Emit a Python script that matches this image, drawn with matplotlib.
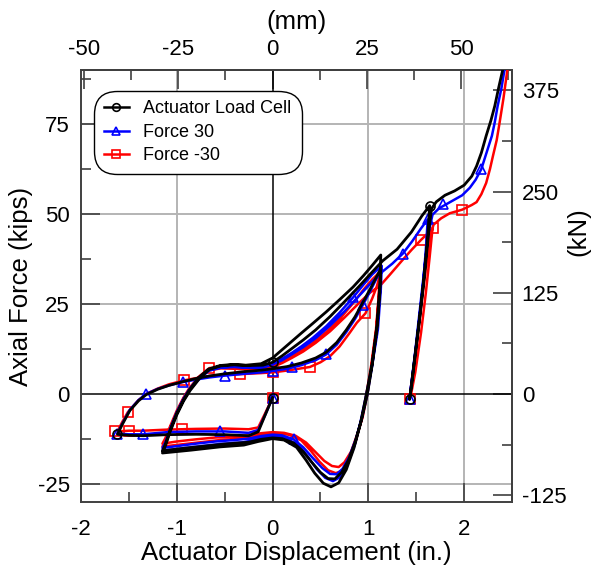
import matplotlib
matplotlib.use("Agg")
import matplotlib.pyplot as plt
import numpy as np

plt.rcParams['font.family'] = ['Liberation Sans', 'DejaVu Sans']
plt.rcParams['axes.unicode_minus'] = False

# ---------------- data (in., kips) ----------------
black_x = [0, -0.08, -0.15, -0.25, -0.5, -0.8, -1.1, -1.35, -1.5, -1.62,
           -1.57, -1.49, -1.40, -1.32, -1.2, -1.08, -0.94, -0.8, -0.66, -0.5, -0.3, -0.12, 0, 0.15, 0.3, 0.45, 0.56, 0.67, 0.77, 0.86, 0.94, 1.02, 1.08, 1.13,
           1.12, 1.09, 1.04, 0.99, 0.93, 0.86, 0.79, 0.72, 0.65, 0.58, 0.5, 0.41, 0.32, 0.22, 0.1, 0, -0.12, -0.25, -0.35, -0.5, -0.75, -1.0, -1.15,
           -1.12, -1.07, -1.0, -0.93, -0.87, -0.77, -0.67, -0.55, -0.42, -0.28, -0.12, 0, 0.1, 0.2, 0.3, 0.42, 0.56, 0.7, 0.84, 0.95, 1.04, 1.13,
           1.12, 1.09, 1.04, 0.98, 0.92, 0.85, 0.77, 0.69, 0.61, 0.53, 0.44, 0.35, 0.25, 0.12, 0, -0.15, -0.3, -0.55, -0.85, -1.15,
           -1.12, -1.07, -1.0, -0.93, -0.86, -0.76, -0.66, -0.54, -0.4, -0.25, -0.1, 0, 0.1, 0.2, 0.32, 0.45, 0.6, 0.75, 0.9, 1.02, 1.15, 1.3, 1.45, 1.56, 1.64,
           1.62, 1.58, 1.53, 1.48, 1.45, 1.43,
           1.45, 1.49, 1.54, 1.59, 1.63, 1.66, 1.71, 1.8, 1.9, 2.0, 2.08, 2.13, 2.18, 2.23, 2.28, 2.32, 2.36, 2.4, 2.42]
black_y = [-1, -6, -10.5, -11.6, -11.3, -11.2, -11.3, -11.6, -11.5, -11.2,
           -8.5, -4.6, -1.9, -0.2, 1.3, 2.4, 3.4, 4.3, 5.0, 5.6, 6.2, 6.6, 7.0, 7.6, 8.6, 10.0, 11.6, 14.3, 17.8, 21.4, 25.3, 29.2, 32.3, 34.8,
           28, 18, 8, 0, -7, -13.5, -18.5, -21.8, -23.6, -23.5, -21.8, -19, -16, -13.6, -12.4, -12.2, -12.6, -13.4, -13.6, -13.9, -14.6, -15.3, -15.8,
           -14, -10, -5.3, -1.6, 1.1, 4.6, 6.9, 7.9, 8.2, 8.0, 8.4, 10.0, 12.3, 14.6, 16.9, 19.6, 22.8, 26.2, 29.7, 32.9, 35.7, 38.6,
           30, 19, 8.5, 0, -8, -15, -21, -24.7, -25.8, -24.8, -22, -18.4, -14.8, -12.8, -12.4, -13.2, -14.2, -14.7, -15.6, -16.4,
           -14.5, -10.5, -5.8, -2, 1, 4.4, 6.8, 7.8, 8.1, 7.9, 8.0, 8.8, 10.6, 12.6, 15.0, 17.8, 21.5, 25.6, 29.8, 33.3, 37.0, 40.2, 45.0, 49.5, 52.3,
           44, 32, 20, 9, 2, -1.5,
           2.5, 11, 22, 34, 45, 51.5, 53.4, 55.2, 56.4, 58.0, 60.5, 63.3, 67.0, 71.7, 76.0, 80.0, 85.0, 89.7, 93.0]

blue_x = [0, -0.08, -0.15, -0.25, -0.5, -0.8, -1.1, -1.35, -1.5, -1.62,
          -1.57, -1.49, -1.40, -1.32, -1.2, -1.08, -0.94, -0.8, -0.66, -0.5, -0.3, -0.12, 0, 0.15, 0.3, 0.45, 0.56, 0.67, 0.77, 0.86, 0.94, 1.02, 1.08, 1.13,
          1.12, 1.09, 1.04, 0.99, 0.93, 0.87, 0.80, 0.73, 0.67, 0.6, 0.52, 0.42, 0.32, 0.22, 0.1, 0, -0.12, -0.25, -0.4, -0.6, -0.8, -1.0, -1.15,
          -1.12, -1.07, -1.0, -0.93, -0.87, -0.77, -0.67, -0.55, -0.42, -0.28, -0.12, 0, 0.1, 0.2, 0.3, 0.42, 0.56, 0.7, 0.84, 0.95, 1.04, 1.14,
          1.13, 1.1, 1.04, 0.98, 0.92, 0.86, 0.78, 0.7, 0.63, 0.55, 0.46, 0.37, 0.27, 0.14, 0, -0.15, -0.3, -0.55, -0.85, -1.15,
          -1.12, -1.07, -1.0, -0.93, -0.86, -0.76, -0.66, -0.54, -0.4, -0.25, -0.1, 0, 0.1, 0.2, 0.32, 0.45, 0.6, 0.75, 0.9, 1.02, 1.12, 1.25, 1.36, 1.46, 1.55, 1.62,
          1.6, 1.57, 1.52, 1.47, 1.44, 1.43,
          1.45, 1.49, 1.54, 1.59, 1.63, 1.67, 1.74, 1.82, 1.9, 1.98, 2.06, 2.12, 2.18, 2.24, 2.29, 2.32, 2.35, 2.39, 2.42, 2.44]
blue_y = [-1, -6, -10, -10.8, -10.4, -10.4, -10.6, -11.2, -11.2, -11.0,
          -8.3, -4.4, -1.7, 0, 1.4, 2.4, 3.3, 4.0, 4.6, 5.1, 5.6, 6.0, 6.4, 7.0, 8.0, 9.4, 11.0, 13.7, 17.2, 20.8, 24.6, 28.6, 31.8, 34.3,
          28, 18, 8, 0, -7, -12.5, -17.5, -20.8, -22.3, -22.2, -20.6, -17.8, -14.8, -12.6, -11.5, -11.3, -11.7, -12.4, -12.8, -13.2, -13.8, -14.5, -15.0,
          -13.5, -9.7, -5, -1.3, 1.3, 4.6, 6.6, 7.4, 7.6, 7.4, 7.5, 8.5, 9.8, 11.4, 13.2, 15.6, 18.8, 22.6, 26.8, 30.4, 33.2, 35.6,
          29, 18, 8, 0, -7.5, -14, -19.8, -23.2, -24.2, -23.3, -20.8, -17.5, -14.3, -12.3, -11.8, -12.5, -13.4, -13.9, -14.8, -15.8,
          -14, -10.2, -5.6, -1.8, 1.2, 4.4, 6.5, 7.3, 7.5, 7.3, 7.3, 8.2, 9.4, 11.0, 13.0, 15.5, 19.0, 22.9, 27.2, 30.6, 33.4, 36.2, 39.0, 42.5, 46.0, 48.5,
          40, 30, 18, 7, 1, -1.5,
          3, 12, 24, 36, 45, 49.8, 51.6, 52.8, 54.0, 55.2, 57.3, 59.5, 62.5, 67.5, 71.7, 75.5, 80.0, 85.0, 89.7, 93.0]

red_x = [0, -0.08, -0.15, -0.25, -0.5, -0.8, -1.1, -1.35, -1.5, -1.62,
         -1.57, -1.51, -1.40, -1.32, -1.2, -1.08, -0.92, -0.8, -0.66, -0.5, -0.34, -0.12, 0, 0.15, 0.39, 0.5, 0.6, 0.7, 0.8, 0.88, 0.97, 1.04, 1.09, 1.12,
         1.11, 1.08, 1.03, 0.99, 0.94, 0.88, 0.82, 0.75, 0.69, 0.62, 0.54, 0.45, 0.35, 0.24, 0.12, 0, -0.12, -0.25, -0.4, -0.6, -0.8, -1.0, -1.15,
         -1.12, -1.07, -1.0, -0.93, -0.87, -0.77, -0.66, -0.55, -0.42, -0.28, -0.12, 0, 0.1, 0.2, 0.3, 0.42, 0.56, 0.7, 0.84, 0.95, 1.04, 1.12,
         1.11, 1.08, 1.03, 0.98, 0.93, 0.87, 0.8, 0.73, 0.66, 0.58, 0.49, 0.4, 0.3, 0.17, 0, -0.15, -0.3, -0.55, -0.85, -1.15,
         -1.12, -1.07, -1.0, -0.93, -0.86, -0.76, -0.66, -0.54, -0.4, -0.25, -0.1, 0, 0.1, 0.2, 0.32, 0.45, 0.6, 0.75, 0.9, 1.02, 1.12, 1.22, 1.35, 1.45, 1.55, 1.62, 1.67,
         1.64, 1.6, 1.55, 1.49, 1.45, 1.43,
         1.45, 1.5, 1.55, 1.6, 1.64, 1.68, 1.76, 1.85, 1.98, 2.08, 2.13, 2.18, 2.23, 2.27, 2.3, 2.34, 2.37, 2.41, 2.45, 2.47]
red_y = [-1, -5.5, -9.3, -9.8, -9.6, -9.7, -9.9, -10.2, -10.2, -10.4,
         -7.8, -5.0, -1.7, 0, 1.5, 2.7, 3.8, 4.4, 5.0, 5.3, 5.5, 5.8, 6.0, 6.5, 7.5, 8.8, 10.5, 13.2, 16.8, 19.8, 22.4, 26.5, 30, 33,
         27, 17, 7, 0, -6.5, -11.5, -16, -19, -20.3, -20, -18.6, -16.2, -13.5, -11.6, -10.8, -10.6, -10.9, -11.5, -11.8, -12.1, -12.6, -13.2, -13.8,
         -12.3, -9, -4.6, -1, 1.6, 4.8, 7.2, 7.4, 7.3, 7.0, 7.0, 7.8, 9.0, 10.4, 12.0, 14.2, 17.2, 20.8, 25.2, 29.0, 31.8, 33.9,
         28, 18, 8, 0, -7, -13, -18, -21.3, -22, -21.2, -18.8, -15.8, -12.9, -11.3, -10.9, -11.5, -12.3, -12.8, -13.7, -14.6,
         -13, -9.5, -5.2, -1.4, 1.5, 4.6, 6.6, 7.1, 7.0, 6.8, 6.8, 7.5, 8.6, 10.0, 11.8, 14.2, 17.4, 21.2, 25.2, 28.2, 30.0, 33.0, 37.0, 40.0, 42.8, 44.6, 46.0,
         38, 28, 17, 6, 0.5, -1.5,
         3, 13, 24, 35, 43, 47, 48.8, 50.2, 51.2, 52.5, 53.3, 55.5, 58.6, 62.5, 66.0, 70.5, 75.3, 82.0, 89.7, 93.0]

# marker positions (on the curves)
black_mx = [0, -1.62, 0, 1.64, 1.43]
black_my = [-1, -11.2, 8.8, 52.3, -1.5]
blue_mx = [0, -1.62, -1.32, -0.94, -0.5, -1.35, -0.55, 0, 0.2, 0.56, 0.94, 0.84, 1.36, 1.62, 1.78, 2.18, 1.43, 0.22]
blue_my = [-1, -11.0, 0, 3.3, 5.1, -11.2, -10.4, 6.4, 7.5, 11.0, 24.6, 26.8, 39.0, 48.5, 52.8, 62.5, -1.5, -12.6]
red_mx = [0, -1.65, -1.5, -1.51, -0.95, -0.92, -0.66, -0.34, 0, 0.39, 0.97, 1.55, 1.67, 1.98, 1.43]
red_my = [-1, -10.2, -10.2, -5.0, -9.8, 3.8, 7.2, 5.5, 6.0, 7.5, 22.4, 42.8, 46.0, 51.2, -1.5]

x_major = [-2, -1, 0, 1, 2]
x_minor = [-1.5, -0.5, 0.5, 1.5, 2.5]
y_major = [-25, 0, 25, 50, 75]
y_minor = [-12.5, 12.5, 37.5, 62.5, 87.5]
mm_major = [-50, -25, 0, 25, 50]
mm_minor = [-37.5, -12.5, 12.5, 37.5, 62.5]
kn_major = [-125, 0, 125, 250, 375]
kn_minor = [-62.5, 62.5, 187.5, 312.5]

IN_TO_MM = 25.4
KIP_TO_KN = 4.448

# ---------------- figure ----------------
fig = plt.figure(figsize=(5.98, 5.69), dpi=100)
ax = fig.add_axes([0.1355, 0.1178, 0.7207, 0.7592])
ax.set_xlim(-2, 2.5)
ax.set_ylim(-30, 90)

grid_c = '#b4b4b4'
for v in [-1, 1, 2]:
    ax.axvline(v, color=grid_c, lw=1.4, zorder=0)
for v in [-25, 25, 50, 75]:
    ax.axhline(v, color=grid_c, lw=1.4, zorder=0)
ax.axvline(0, color='black', lw=1.1, zorder=1)
ax.axhline(0, color='black', lw=1.1, zorder=1)

ms = 6.5
ax.plot(red_x, red_y, color='#ff0000', lw=1.8, zorder=3, solid_joinstyle='round')
ax.plot(red_mx, red_my, ls='none', marker='s', ms=ms, mfc='none', mec='#ff0000', mew=1.2, zorder=3)
ax.plot(blue_x, blue_y, color='#0000ff', lw=1.8, zorder=4, solid_joinstyle='round')
ax.plot(blue_mx, blue_my, ls='none', marker='^', ms=ms, mfc='none', mec='#0000ff', mew=1.2, zorder=4)
ax.plot(black_x, black_y, color='black', lw=2.0, zorder=5, solid_joinstyle='round')
ax.plot(black_mx, black_my, ls='none', marker='o', ms=ms, mfc='none', mec='black', mew=1.2, zorder=5)

# legend proxies
h1, = ax.plot([], [], color='black', lw=1.8, marker='o', ms=5.5, mfc='none', mew=1.2)
h2, = ax.plot([], [], color='#0000ff', lw=1.8, marker='^', ms=5.5, mfc='none', mew=1.2)
h3, = ax.plot([], [], color='#ff0000', lw=1.8, marker='s', ms=5.5, mfc='none', mew=1.2)
leg = ax.legend([h1, h2, h3], ['Actuator Load Cell', 'Force 30', 'Force -30'],
                loc='upper left', bbox_to_anchor=(0.038, 0.944), borderaxespad=0,
                fontsize=13, handlelength=1.4, handletextpad=0.8, labelspacing=0.36,
                borderpad=0.35, frameon=True, fancybox=True, framealpha=1,
                edgecolor='black')
leg.get_frame().set_linewidth(1.0)
leg.get_frame().set_boxstyle('round', pad=0.2, rounding_size=1.3)
leg.set_zorder(10)

spine_c = '#404040'
for s in ax.spines.values():
    s.set_color(spine_c)
    s.set_linewidth(1.4)

ax.set_xticks(x_major)
ax.set_xticks(x_minor, minor=True)
ax.set_yticks(y_major)
ax.set_yticks(y_minor, minor=True)
ax.tick_params(which='major', direction='in', length=13.5, width=1.2, color=spine_c, labelsize=16)
ax.tick_params(which='minor', direction='in', length=7, width=1.2, color=spine_c)
ax.tick_params(axis='x', which='major', pad=12)
ax.tick_params(axis='y', which='major', pad=8)

ax.set_xlabel('Actuator Displacement (in.)', fontsize=18.5)
ax.xaxis.label.set_va('center')
ax.xaxis.set_label_coords(0.5, -0.118)
ax.set_ylabel('Axial Force (kips)', fontsize=18.5)
ax.yaxis.label.set_va('center')
ax.yaxis.set_label_coords(-0.139, 0.5)

top = ax.secondary_xaxis('top', functions=(lambda v: v * IN_TO_MM, lambda v: v / IN_TO_MM))
top.set_xticks(mm_major)
top.set_xticks(mm_minor, minor=True)
top.tick_params(which='major', direction='in', length=13.5, width=1.2, color=spine_c, labelsize=16, pad=7.5)
top.tick_params(which='minor', direction='in', length=7, width=1.2, color=spine_c)
top.spines['top'].set_color(spine_c)
top.spines['top'].set_linewidth(1.4)

right = ax.secondary_yaxis('right', functions=(lambda v: v * KIP_TO_KN, lambda v: v / KIP_TO_KN))
right.set_yticks(kn_major)
right.set_yticks(kn_minor, minor=True)
right.tick_params(which='major', direction='in', length=13.5, width=1.2, color=spine_c, labelsize=16, pad=7)
right.tick_params(which='minor', direction='in', length=7, width=1.2, color=spine_c)
right.spines['right'].set_color(spine_c)
right.spines['right'].set_linewidth(1.4)

# secondary axis titles
ax.text(0.5, 1.111, '(mm)', transform=ax.transAxes, fontsize=18.5, ha='center', va='center')
ax.text(1.153, 0.625, '(kN)', transform=ax.transAxes, fontsize=18.5, ha='center', va='center', rotation=90)

fig.savefig('out.png', dpi=100)
